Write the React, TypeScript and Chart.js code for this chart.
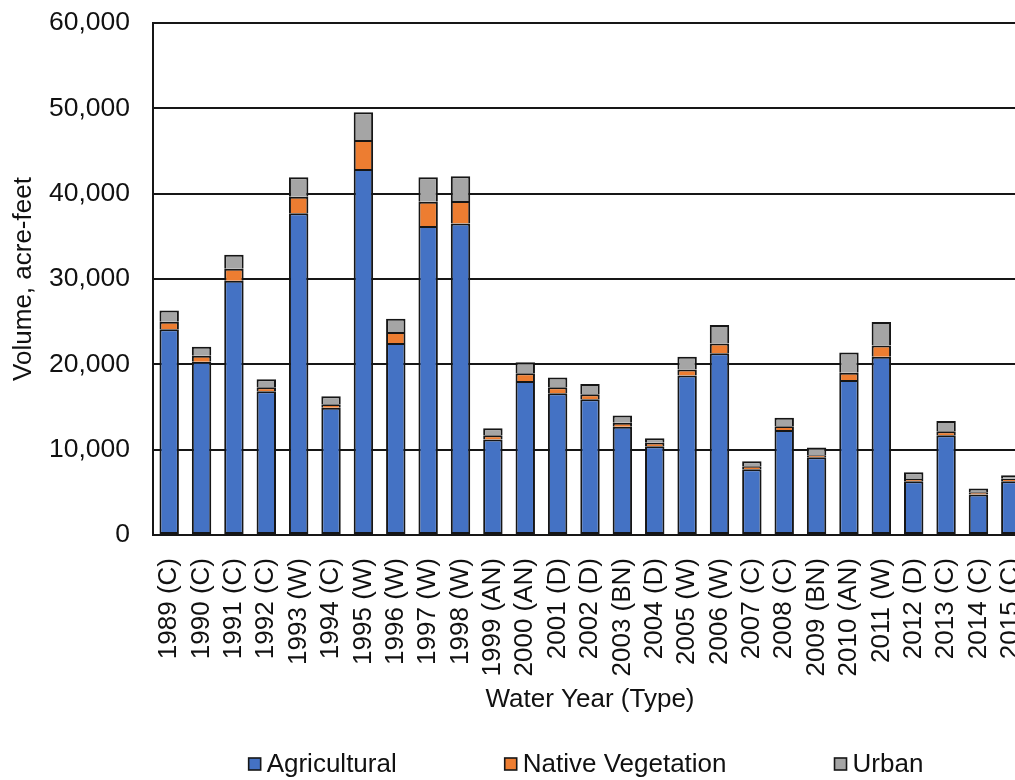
import React, { useEffect, useRef } from "react";
import { Chart, registerables } from "chart.js";

Chart.register(...registerables);

const categories = [
  "1989 (C)", "1990 (C)", "1991 (C)", "1992 (C)", "1993 (W)", "1994 (C)",
  "1995 (W)", "1996 (W)", "1997 (W)", "1998 (W)", "1999 (AN)", "2000 (AN)",
  "2001 (D)", "2002 (D)", "2003 (BN)", "2004 (D)", "2005 (W)", "2006 (W)",
  "2007 (C)", "2008 (C)", "2009 (BN)", "2010 (AN)", "2011 (W)", "2012 (D)",
  "2013 (C)", "2014 (C)", "2015 (C)",
];

const agricultural = [
  24100, 20300, 29800, 16850, 37700, 14900, 42900, 22500, 36200, 36500,
  11200, 18050, 16600, 15900, 12700, 10400, 18700, 21300, 7700, 12300,
  9100, 18150, 20900, 6300, 11700, 4750, 6300,
];

const nativeVegetation = [
  900, 700, 1400, 470, 1950, 430, 3400, 1300, 2850, 2650,
  500, 900, 700, 600, 450, 400, 700, 1150, 350, 450,
  250, 850, 1300, 250, 450, 250, 300,
];

const urban = [
  1300, 1050, 1650, 940, 2270, 940, 3250, 1550, 2860, 2900,
  800, 1300, 1150, 1200, 850, 550, 1500, 2150, 600, 1000,
  900, 2400, 2750, 800, 1200, 450, 400,
];

const seriesNames = ["Agricultural", "Native Vegetation", "Urban"];
const seriesColors = ["#4472C4", "#ED7D31", "#A5A5A5"];

const yTicks = [0, 10000, 20000, 30000, 40000, 50000, 60000];
const yAxisTitle = "Volume, acre-feet";
const xAxisTitle = "Water Year (Type)";

const FONT_FAMILY = '"Liberation Sans", Arial, Helvetica, sans-serif';
const TEXT_COLOR = "#111";
const LINE_COLOR = "#161616";

const legendPlugin = {
  id: "customBottomLegend",
  afterDraw(chart: any) {
    const ctx = chart.ctx as CanvasRenderingContext2D;
    ctx.save();
    ctx.font = `26px ${FONT_FAMILY}`;
    ctx.textBaseline = "middle";
    ctx.textAlign = "left";
    const box = 12;
    const gapText = 6;
    const gapItem = 108;
    const centerX = 586;
    const centerY = 765;
    const items = chart.data.datasets.map((ds: any) => ({
      label: ds.label as string,
      color: ds.backgroundColor as string,
    }));
    const widths = items.map(
      (it: any) => box + gapText + ctx.measureText(it.label).width
    );
    const total =
      widths.reduce((a: number, b: number) => a + b, 0) +
      gapItem * (items.length - 1);
    let x = centerX - total / 2;
    items.forEach((it: any, i: number) => {
      ctx.fillStyle = it.color;
      ctx.fillRect(x, centerY - box / 2 - 1, box, box);
      ctx.lineWidth = 1.6;
      ctx.strokeStyle = LINE_COLOR;
      ctx.strokeRect(x, centerY - box / 2 - 1, box, box);
      ctx.fillStyle = TEXT_COLOR;
      ctx.fillText(it.label, x + box + gapText, centerY);
      x += widths[i] + gapItem;
    });
    ctx.restore();
  },
};

export default function App() {
  const canvasRef = useRef<HTMLCanvasElement | null>(null);

  useEffect(() => {
    if (!canvasRef.current) return;
    const seriesData = [agricultural, nativeVegetation, urban];
    const chart = new Chart(canvasRef.current, {
      type: "bar",
      data: {
        labels: categories,
        datasets: seriesNames.map((name, i) => ({
          label: name,
          data: seriesData[i],
          backgroundColor: seriesColors[i],
          borderColor: LINE_COLOR,
          borderWidth: 2,
          borderSkipped: i === 0 ? false : "start",
          categoryPercentage: 1,
          barPercentage: 0.6,
        })),
      },
      options: {
        responsive: false,
        animation: false,
        layout: {
          padding: { top: 23, right: 33, bottom: 65, left: 0 },
        },
        plugins: {
          legend: { display: false },
          tooltip: { enabled: false },
        },
        scales: {
          x: {
            stacked: true,
            grid: { display: false, drawTicks: false },
            border: { display: true, color: LINE_COLOR, width: 2 },
            ticks: {
              autoSkip: false,
              maxRotation: 90,
              minRotation: 90,
              padding: 23,
              color: TEXT_COLOR,
              font: { family: FONT_FAMILY, size: 26 },
            },
            title: {
              display: true,
              text: xAxisTitle,
              color: TEXT_COLOR,
              font: { family: FONT_FAMILY, size: 26 },
              padding: { top: 0, bottom: 0 },
            },
            afterFit: (scale: any) => {
              scale.height = 180;
              scale.paddingLeft = 0;
              scale.paddingRight = 0;
              scale.paddingTop = 0;
              scale.paddingBottom = 0;
            },
          },
          y: {
            stacked: true,
            min: 0,
            max: 60000,
            afterBuildTicks: (scale: any) => {
              scale.ticks = yTicks.map((v) => ({ value: v }));
            },
            grid: {
              color: LINE_COLOR,
              lineWidth: 2,
              drawTicks: false,
            },
            border: { display: true, color: LINE_COLOR, width: 2 },
            ticks: {
              padding: 23,
              color: TEXT_COLOR,
              font: { family: FONT_FAMILY, size: 26.5 },
              callback: (v: any) => Number(v).toLocaleString("en-US"),
            },
            title: {
              display: true,
              text: yAxisTitle,
              color: TEXT_COLOR,
              font: { family: FONT_FAMILY, size: 26 },
              padding: { top: 8, bottom: 0 },
            },
            afterFit: (scale: any) => {
              scale.width = 153;
              scale.paddingTop = 0;
              scale.paddingBottom = 0;
              scale.paddingLeft = 0;
              scale.paddingRight = 0;
            },
          },
        },
      },
      plugins: [legendPlugin],
    });
    return () => chart.destroy();
  }, []);

  return (
    <div
      style={{
        position: "fixed",
        left: 0,
        top: 0,
        width: 1015,
        height: 780,
        overflow: "hidden",
        background: "#fff",
      }}
    >
      <canvas ref={canvasRef} width={1060} height={780} style={{ display: "block" }} />
    </div>
  );
}
